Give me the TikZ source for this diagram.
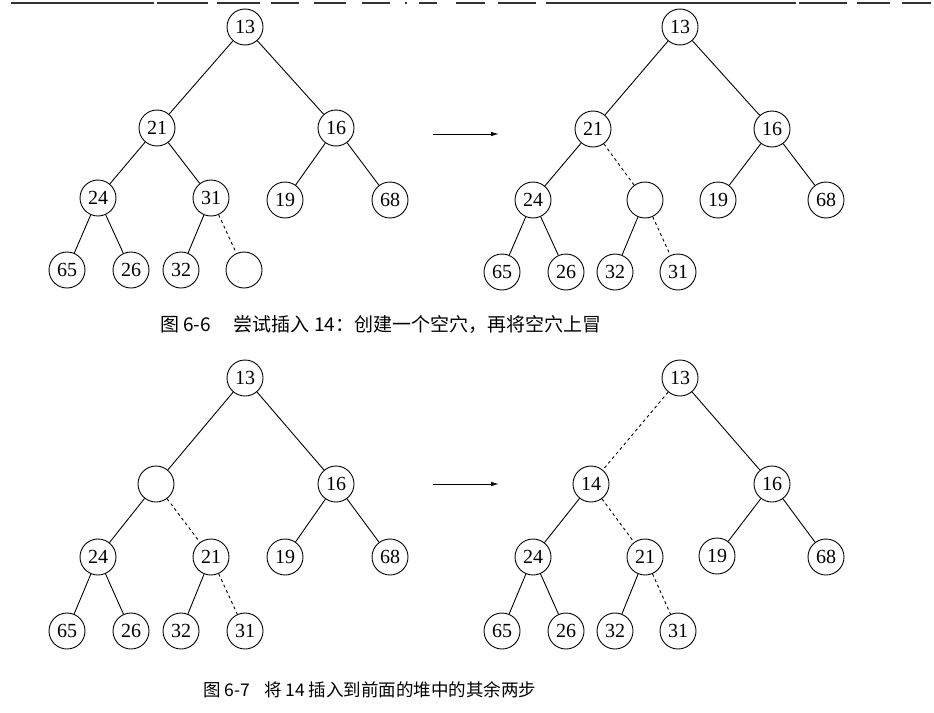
\documentclass[tikz,border=0pt]{standalone}
\usepackage{fontspec}
\setmainfont{Liberation Serif}
\newfontfamily\cjk{Noto Sans CJK SC}
\usetikzlibrary{arrows.meta}
\begin{document}
\begin{tikzpicture}[x=1pt,y=-1pt,
  hn/.style={circle,draw,line width=0.9pt,minimum size=36pt,inner sep=0pt,font=\fontsize{20}{20}\selectfont},
  ed/.style={line width=0.9pt},
  dd/.style={line width=0.9pt,dash pattern=on 3pt off 3pt},
  arr/.style={line width=0.9pt,-{Latex[length=8pt,width=4.5pt]}},
  captext/.style={font=\cjk,inner sep=0pt,anchor=west},
  border/.style={line width=1.3pt,draw=black!80}]
\useasboundingbox (0,0) rectangle (934,712);
% scan border line at top
\foreach \a/\b in {11/154,157/208,217/260,271/299,314/346,362/390,405/407,419/437,456/485,498/536,546/796,799/847,857/890,902/931}
  \draw[border] (\a,3) -- (\b,3);
% ---------- Tree A (top left)
\node[hn] (a13) at (245,27) {13};
\node[hn] (a21) at (157,128) {21};
\node[hn] (a16) at (336,128) {16};
\node[hn] (a24) at (98,198) {24};
\node[hn] (a31) at (211,198) {31};
\node[hn] (a19) at (285,200) {19};
\node[hn] (a68) at (390,200) {68};
\node[hn] (a65) at (67,270) {65};
\node[hn] (a26) at (131,270) {26};
\node[hn] (a32) at (181,270) {32};
\node[hn] (ae) at (244,270) {};
\draw[ed] (a13)--(a21) (a13)--(a16) (a21)--(a24) (a21)--(a31) (a16)--(a19) (a16)--(a68)
  (a24)--(a65) (a24)--(a26) (a31)--(a32);
\draw[dd] (a31)--(ae);
% arrow 1
\coordinate (p1s) at (433,134);
\coordinate (p1e) at (499,134);
\draw[arr] (p1s)--(p1e);
% ---------- Tree B (top right)
\node[hn] (b13) at (680,27) {13};
\node[hn] (b21) at (593,129) {21};
\node[hn] (b16) at (772,129) {16};
\node[hn] (b24) at (533,200) {24};
\node[hn] (be) at (645,200) {};
\node[hn] (b19) at (718,200) {19};
\node[hn] (b68) at (826,200) {68};
\node[hn] (b65) at (502,272) {65};
\node[hn] (b26) at (566,272) {26};
\node[hn] (b32) at (615,272) {32};
\node[hn] (b31) at (678,272) {31};
\draw[ed] (b13)--(b21) (b13)--(b16) (b21)--(b24) (b16)--(b19) (b16)--(b68)
  (b24)--(b65) (b24)--(b26) (be)--(b32);
\draw[dd] (b21)--(be) (be)--(b31);
\node[captext] (c1) at (160,324) {\fontsize{19}{19}\selectfont 图 6-6\hspace{1.2em}尝试插入 14：创建一个空穴，再将空穴上冒};
% ---------- Tree C (bottom left)
\node[hn] (c13) at (245,378) {13};
\node[hn] (ce) at (156,484) {};
\node[hn] (c16) at (336,484) {16};
\node[hn] (c24) at (98,557) {24};
\node[hn] (c21) at (211,557) {21};
\node[hn] (c19) at (285,557) {19};
\node[hn] (c68) at (390,557) {68};
\node[hn] (c65) at (67,631) {65};
\node[hn] (c26) at (131,631) {26};
\node[hn] (c32) at (181,631) {32};
\node[hn] (c31) at (245,631) {31};
\draw[ed] (c13)--(ce) (c13)--(c16) (ce)--(c24) (c16)--(c19) (c16)--(c68)
  (c24)--(c65) (c24)--(c26) (c21)--(c32);
\draw[dd] (ce)--(c21) (c21)--(c31);
% arrow 2
\coordinate (p2s) at (433,484);
\coordinate (p2e) at (499,484);
\draw[arr] (p2s)--(p2e);
% ---------- Tree D (bottom right)
\node[hn] (d13) at (680,378) {13};
\node[hn] (d14) at (591,484) {14};
\node[hn] (d16) at (772,484) {16};
\node[hn] (d24) at (533,557) {24};
\node[hn] (d21) at (645,557) {21};
\node[hn] (d19) at (717,556) {19};
\node[hn] (d68) at (826,557) {68};
\node[hn] (d65) at (502,631) {65};
\node[hn] (d26) at (566,631) {26};
\node[hn] (d32) at (615,631) {32};
\node[hn] (d31) at (678,631) {31};
\draw[ed] (d13)--(d16) (d14)--(d24) (d16)--(d19) (d16)--(d68)
  (d24)--(d65) (d24)--(d26) (d21)--(d32);
\draw[dd] (d13)--(d14) (d14)--(d21) (d21)--(d31);
\node[captext] (c2) at (203,690) {\fontsize{17.5}{17.5}\selectfont 图 6-7\hspace{0.8em}将 14 插入到前面的堆中的其余两步};
\end{tikzpicture}
\end{document}
